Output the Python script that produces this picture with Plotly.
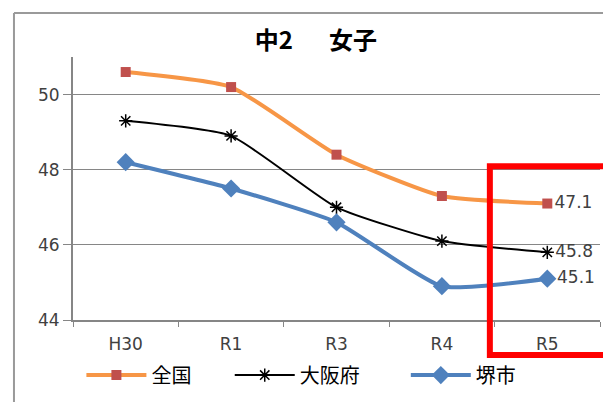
import plotly.graph_objects as go

years = ["H30", "R1", "R3", "R4", "R5"]
zenkoku = [50.6, 50.2, 48.4, 47.3, 47.1]
osaka = [49.3, 48.9, 47.0, 46.1, 45.8]
sakai = [48.2, 47.5, 46.6, 44.9, 45.1]
y_ticks = [44, 46, 48, 50]

TICK_FONT = dict(family="DejaVu Sans", size=17, color="#404040")
JP_FONT = "Noto Sans CJK JP"


def last_label(values):
    return [""] * (len(values) - 1) + [f"{values[-1]:.1f}"]


fig = go.Figure()
fig.add_trace(go.Scatter(
    x=years, y=zenkoku, name="全国", mode="lines+markers+text", legend="legend",
    line=dict(color="#F79646", width=4, shape="spline", smoothing=0.5),
    marker=dict(symbol="square", size=10, color="#C0504D"),
    text=last_label(zenkoku), textposition="middle right",
    textfont=TICK_FONT, cliponaxis=False,
))
fig.add_trace(go.Scatter(
    x=years, y=osaka, name="大阪府", mode="lines+markers+text", legend="legend2",
    line=dict(color="#000000", width=2, shape="spline", smoothing=0.5),
    marker=dict(symbol="asterisk-open", size=11, color="#000000",
                line=dict(width=1.5, color="#000000")),
    text=last_label(osaka), textposition="middle right",
    textfont=TICK_FONT, cliponaxis=False,
))
fig.add_trace(go.Scatter(
    x=years, y=sakai, name="堺市", mode="lines+markers+text", legend="legend3",
    line=dict(color="#4F81BD", width=4, shape="spline", smoothing=0.5),
    marker=dict(symbol="diamond", size=14, color="#4F81BD"),
    text=last_label(sakai), textposition="middle right",
    textfont=TICK_FONT, cliponaxis=False,
))

# chart frame (left and top edges) and highlight box around R5
fig.add_shape(type="line", xref="paper", yref="paper",
              x0=-0.112, x1=-0.112, y0=1.167, y1=-0.4,
              line=dict(color="#9A9A9A", width=2))
fig.add_shape(type="line", xref="paper", yref="paper",
              x0=-0.112, x1=1.2, y0=1.167, y1=1.167,
              line=dict(color="#9A9A9A", width=2))
fig.add_shape(type="rect", xref="paper", yref="paper",
              x0=0.791, x1=1.1, y0=0.585, y1=-0.133,
              line=dict(color="#FF0000", width=6))


def legend_at(x):
    return dict(orientation="h", xref="container", yref="container",
                x=x, xanchor="left", y=0.067, yanchor="middle",
                font=dict(family=JP_FONT, size=20, color="#000000"),
                itemwidth=60, bgcolor="rgba(0,0,0,0)")


fig.update_layout(
    width=603, height=402,
    margin=dict(l=73, r=3, t=57, b=82),
    paper_bgcolor="white", plot_bgcolor="white",
    title=dict(text="中2　\u2002女子", x=0.461, xref="paper", xanchor="center",
               y=0.898, yref="container", yanchor="middle",
               font=dict(family=JP_FONT, size=24, color="#000000", weight="bold")),
    showlegend=True,
    legend=legend_at(0.135),
    legend2=legend_at(0.381),
    legend3=legend_at(0.673),
    xaxis=dict(
        type="category", range=[-0.5, 4.5], automargin=False,
        showgrid=False, showline=True, linecolor="#868686", linewidth=1.5,
        ticks="outside", ticklen=5, tickcolor="#868686", tickson="boundaries",
        tickfont=TICK_FONT, ticklabelstandoff=8,
    ),
    yaxis=dict(
        range=[44, 51], tickvals=y_ticks, automargin=False,
        showgrid=True, gridcolor="#868686", gridwidth=1,
        showline=True, linecolor="#868686", linewidth=2,
        ticks="outside", ticklen=8, tickcolor="#868686",
        tickfont=TICK_FONT, zeroline=False,
    ),
)

fig.write_html("out.html")
